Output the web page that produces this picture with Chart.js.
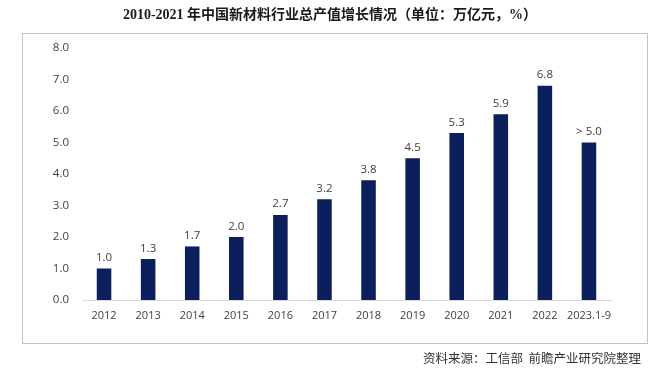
<!DOCTYPE html>
<html>
<head>
<meta charset="utf-8">
<script src="https://cdn.jsdelivr.net/npm/chart.js@4"></script>
<style>
  html, body { margin: 0; padding: 0; background: #fff; }
  #wrap { position: relative; width: 660px; height: 375px; }
  #frame { position: absolute; left: 22px; top: 33px; width: 624px; height: 309px; border: 1px solid #c4c4c4; }
  #c { position: absolute; left: 0; top: 0; }
</style>
</head>
<body>
<div id="wrap">
  <div id="frame"></div>
  <canvas id="c" width="660" height="375"></canvas>
</div>
<script>
// data
const years = ["2012", "2013", "2014", "2015", "2016", "2017", "2018", "2019", "2020", "2021", "2022", "2023.1-9"];
const output = [1.0, 1.3, 1.7, 2.0, 2.7, 3.2, 3.8, 4.5, 5.3, 5.9, 6.8, 5.0];
const valueLabels = ["1.0", "1.3", "1.7", "2.0", "2.7", "3.2", "3.8", "4.5", "5.3", "5.9", "6.8", "> 5.0"];
const yTicks = [0, 1, 2, 3, 4, 5, 6, 7, 8];

const titleText = "2010-2021 年中国新材料行业总产值增长情况（单位：万亿元，%）";
const sourceText = "资料来源：工信部  前瞻产业研究院整理";

const textColor = "#404040";
const barColor = "#0b1f5c";
const tickFont = "'Open Sans', 'Noto Sans', sans-serif";

// title, source note and the value labels over the bars
const extras = {
  id: "extras",
  afterDatasetsDraw(chart) {
    const ctx = chart.ctx;
    ctx.save();
    ctx.fillStyle = "#1a1a1a";
    ctx.textAlign = "center";
    ctx.textBaseline = "middle";
    ctx.font = "bold 14px 'Liberation Serif', 'Noto Sans CJK SC', serif";
    ctx.fillText(titleText, 330, 15);

    ctx.fillStyle = "#333";
    ctx.textAlign = "right";
    ctx.font = "12.5px 'Noto Sans CJK SC', sans-serif";
    ctx.fillText(sourceText, 641, 358);

    ctx.fillStyle = textColor;
    ctx.textAlign = "center";
    ctx.textBaseline = "bottom";
    ctx.font = "11.5px " + tickFont;
    const meta = chart.getDatasetMeta(0);
    meta.data.forEach(function (bar, i) {
      ctx.fillText(valueLabels[i], bar.x, bar.y - 5);
    });
    ctx.restore();
  }
};

let chart = new Chart(document.getElementById("c").getContext("2d"), {
  type: "bar",
  data: {
    labels: years,
    datasets: [{
      label: "总产值",
      data: output,
      backgroundColor: barColor,
      barPercentage: 0.33,
      categoryPercentage: 1.0
    }]
  },
  options: {
    responsive: false,
    animation: false,
    layout: { padding: { left: 22, right: 49, top: 48, bottom: 45 } },
    plugins: {
      legend: { display: false },
      tooltip: { enabled: false }
    },
    scales: {
      x: {
        grid: { display: false, drawTicks: false },
        border: { display: true, color: "#d9d9d9", width: 1 },
        ticks: { color: textColor, font: { size: 11, family: tickFont }, padding: 9, maxRotation: 0, autoSkip: false },
        afterFit(scale) { scale.height = 30; }
      },
      y: {
        min: 0,
        max: yTicks[yTicks.length - 1],
        afterBuildTicks(scale) { scale.ticks = yTicks.map(v => ({ value: v })); },
        grid: { display: false, drawTicks: false },
        border: { display: false },
        ticks: {
          color: textColor,
          font: { size: 11.5, family: tickFont },
          padding: 13,
          callback: v => Number(v).toFixed(1)
        },
        afterFit(scale) { scale.width = 60; }
      }
    }
  },
  plugins: [extras]
});
</script>
</body>
</html>
